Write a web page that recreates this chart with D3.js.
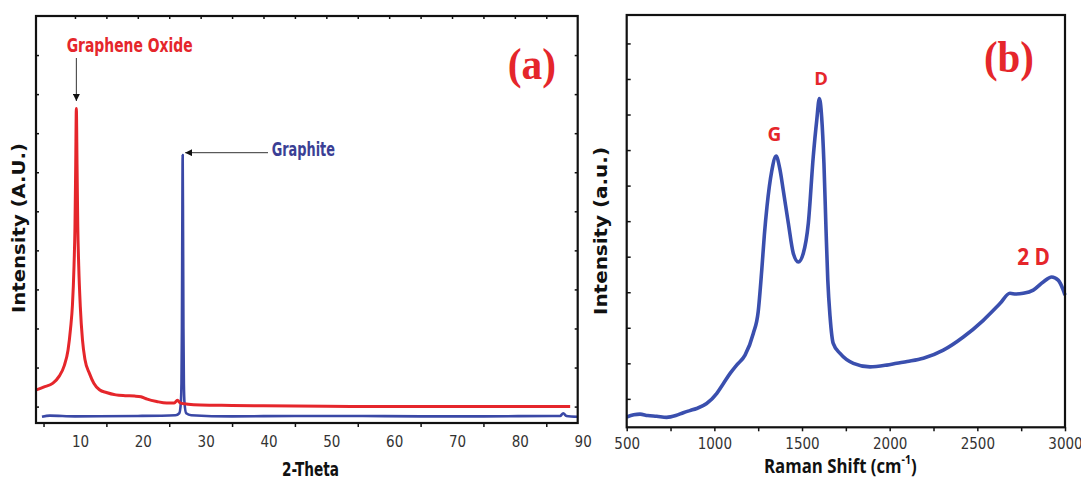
<!DOCTYPE html>
<html>
<head>
<meta charset="utf-8">
<script src="https://cdn.jsdelivr.net/npm/d3@7"></script>
<style>
  html, body { margin: 0; padding: 0; background: #fff; }
  svg { display: block; }
  .narrow { font-family: "Liberation Sans Narrow", "DejaVu Sans Condensed", "Arial Narrow", sans-serif; }
</style>
</head>
<body>
<svg id="fig" width="1081" height="482"></svg>
<script>
// ---------- (a) XRD patterns ----------
const goTheta = [3.85, 5.0, 6.5, 7.5, 8.3, 8.9, 9.3, 9.6, 9.85, 10.0, 10.12, 10.22, 10.33, 10.45, 10.6, 10.85,
  11.2, 11.6, 12.3, 13.0, 13.9, 15.0, 16.5, 18.0, 19.5, 20.5, 21.5, 23.0, 24.6, 25.8, 26.3, 26.8, 28.0,
  30.0, 35.0, 40.0, 50.0, 60.0, 70.0, 80.0, 88.8];
const goIntensity = [0.43, 0.5, 0.6, 0.78, 1.05, 1.45, 2.0, 2.6, 3.6, 4.6, 6.2, 7.63, 6.2, 4.6, 3.6, 2.56,
  1.7, 1.2, 0.85, 0.6, 0.43, 0.36, 0.30, 0.28, 0.27, 0.25, 0.19, 0.13, 0.09, 0.09, 0.16, 0.09, 0.06,
  0.04, 0.03, 0.02, 0.01, 0.0, 0.0, 0.0, 0.0];

const graphiteTheta = [4.75, 6.0, 10.0, 20.0, 26.0, 26.6, 26.85, 26.95, 27.02, 27.08, 27.14, 27.2, 27.26,
  27.33, 27.43, 27.7, 28.5, 35.0, 45.0, 55.0, 65.0, 75.0, 86.0, 87.2, 87.7, 88.2, 90.0];
const graphiteIntensity = [-0.26, -0.23, -0.25, -0.24, -0.22, -0.17, 0.1, 0.6, 2.0, 4.5, 6.44, 4.5, 2.0,
  0.6, 0.1, -0.17, -0.22, -0.25, -0.24, -0.24, -0.25, -0.25, -0.24, -0.24, -0.17, -0.24, -0.26];

const xrdLabelTicks = [10, 20, 30, 40, 50, 60, 70, 80, 90];
const xrdBottomMinor = [5, 15, 25, 35, 45, 55, 65, 75, 85];
const xrdTopTicks = [10, 15, 20, 25, 30, 35, 40, 45, 50, 55, 60, 65, 70, 75, 80, 85];
const xrdYTicks = [0, 1, 2, 3, 4, 5, 6, 7, 8, 9];

// ---------- (b) Raman spectrum ----------
const ramanShift = [500, 540, 576, 620, 671, 728, 780, 823, 860, 899, 956, 1013, 1050, 1089, 1127, 1175,
  1222, 1250, 1270, 1285, 1300, 1327, 1352, 1375, 1393, 1422, 1450, 1479, 1507, 1536, 1564, 1584, 1599,
  1612, 1625, 1637, 1647, 1660, 1678, 1717, 1793, 1888, 1983, 2040, 2100, 2192, 2306, 2420, 2534, 2629,
  2686, 2720, 2762, 2819, 2876, 2924, 2961, 2990, 3000];
const ramanIntensity = [-0.51, -0.45, -0.43, -0.47, -0.49, -0.52, -0.47, -0.39, -0.33, -0.27, -0.13, 0.15,
  0.42, 0.71, 0.95, 1.23, 1.84, 2.45, 3.6, 4.6, 5.4, 6.4, 6.83, 6.43, 5.87, 4.94, 4.10, 3.85, 4.09, 4.94,
  6.81, 7.84, 8.45, 7.93, 6.63, 4.75, 3.34, 2.31, 1.56, 1.28, 1.00, 0.90, 0.95, 1.00, 1.05, 1.14, 1.37,
  1.74, 2.21, 2.68, 2.97, 2.95, 2.97, 3.06, 3.29, 3.43, 3.34, 3.06, 2.92];

const ramanTicks = [500, 750, 1000, 1250, 1500, 1750, 2000, 2250, 2500, 2750, 3000];
const ramanYTicks = [0, 1, 2, 3, 4, 5, 6, 7, 8, 9, 10];

const RED = "#e5262b";
const BLUE_XRD = "#3a48a6";
const BLUE_RAMAN = "#3a4fae";
const NAVY_TEXT = "#3b3f95";

const svg = d3.select("#fig");

// arrowhead marker for the peak pointers
svg.append("defs").append("marker")
  .attr("id", "arrowhead")
  .attr("viewBox", "0 0 10 10")
  .attr("refX", 10).attr("refY", 5)
  .attr("markerWidth", 7).attr("markerHeight", 7)
  .attr("markerUnits", "userSpaceOnUse")
  .attr("orient", "auto")
  .append("path").attr("d", "M0,0 L10,5 L0,10 Z").attr("fill", "#111");

// ---------- panel (a) ----------
const xA = d3.scaleLinear().domain([3.8, 90]).range([36, 577.7]);
const yA = d3.scaleLinear().domain([-0.42, 10]).range([423, 16]);
const gA = svg.append("g");

const lineA = d3.line().x(d => xA(d[0])).y(d => yA(d[1])).curve(d3.curveMonotoneX);

gA.append("path")
  .datum(d3.zip(graphiteTheta, graphiteIntensity))
  .attr("d", lineA).attr("fill", "none").attr("stroke", BLUE_XRD)
  .attr("stroke-width", 2.6).attr("stroke-linejoin", "round");

gA.append("path")
  .datum(d3.zip(goTheta, goIntensity))
  .attr("d", lineA).attr("fill", "none").attr("stroke", RED)
  .attr("stroke-width", 3).attr("stroke-linejoin", "round");

function styleAxis(g) {
  g.select(".domain").remove();
  g.selectAll(".tick line").attr("stroke", "#111").attr("stroke-width", 1.5);
}

// bottom: labels (offset right of their positions) and outward minor ticks
gA.append("g").attr("transform", `translate(0,${yA.range()[0]})`)
  .call(d3.axisBottom(xA).tickValues(xrdBottomMinor).tickSize(4).tickFormat(""))
  .call(styleAxis);
gA.append("g").attr("transform", `translate(0,${yA.range()[0]})`)
  .call(d3.axisBottom(xA).tickValues(xrdLabelTicks).tickSize(0).tickPadding(13).tickFormat(d3.format("d")))
  .call(g => {
    g.select(".domain").remove();
    g.selectAll(".tick text").attr("class", "narrow").attr("font-size", 15)
      .attr("fill", "#333").attr("dx", 5);
  });
// top ticks pointing inward
gA.append("g").attr("transform", `translate(0,${yA.range()[1]})`)
  .call(d3.axisBottom(xA).tickValues(xrdTopTicks).tickSize(3).tickFormat(""))
  .call(styleAxis);
// left and right ticks pointing inward
gA.append("g").attr("transform", `translate(${xA.range()[0]},0)`)
  .call(d3.axisRight(yA).tickValues(xrdYTicks).tickSize(3).tickFormat(""))
  .call(styleAxis);
gA.append("g").attr("transform", `translate(${xA.range()[1]},0)`)
  .call(d3.axisLeft(yA).tickValues(xrdYTicks).tickSize(3).tickFormat(""))
  .call(styleAxis);

// frame
gA.append("rect")
  .attr("x", xA.range()[0]).attr("y", yA.range()[1])
  .attr("width", xA.range()[1] - xA.range()[0]).attr("height", yA.range()[0] - yA.range()[1])
  .attr("fill", "none").attr("stroke", "#111").attr("stroke-width", 2.2);

// annotations
gA.append("text").attr("class", "narrow")
  .attr("x", 66.7).attr("y", 52.3).attr("font-size", 20).attr("font-weight", "bold")
  .attr("fill", RED).attr("textLength", 126).attr("lengthAdjust", "spacingAndGlyphs")
  .text("Graphene Oxide");
gA.append("line")
  .attr("x1", xA(10.22)).attr("y1", 58).attr("x2", xA(10.22)).attr("y2", 101)
  .attr("stroke", "#333").attr("stroke-width", 1).attr("marker-end", "url(#arrowhead)");

gA.append("text").attr("class", "narrow")
  .attr("x", 271.7).attr("y", 155.7).attr("font-size", 20).attr("font-weight", "bold")
  .attr("fill", NAVY_TEXT).attr("textLength", 63.3).attr("lengthAdjust", "spacingAndGlyphs")
  .text("Graphite");
gA.append("line")
  .attr("x1", 268).attr("y1", 152.7).attr("x2", xA(27.14) + 2.5).attr("y2", 152.7)
  .attr("stroke", "#333").attr("stroke-width", 1).attr("marker-end", "url(#arrowhead)");

gA.append("text")
  .attr("x", 507.7).attr("y", 78.5)
  .attr("font-family", "'Liberation Serif', 'DejaVu Serif', serif").attr("font-weight", "bold")
  .attr("font-size", 44).attr("fill", RED)
  .attr("textLength", 48.3).attr("lengthAdjust", "spacingAndGlyphs")
  .text("(a)");

gA.append("text")
  .attr("transform", "translate(25,313) rotate(-90)")
  .attr("font-family", "'DejaVu Sans', Verdana, sans-serif").attr("font-weight", "bold")
  .attr("font-size", 17).attr("fill", "#111")
  .attr("textLength", 170).attr("lengthAdjust", "spacingAndGlyphs")
  .text("Intensity (A.U.)");

gA.append("text").attr("class", "narrow")
  .attr("x", 282).attr("y", 475.7).attr("font-size", 20).attr("font-weight", "bold")
  .attr("fill", "#111").attr("textLength", 57).attr("lengthAdjust", "spacingAndGlyphs")
  .text("2-Theta");

// ---------- panel (b) ----------
const xB = d3.scaleLinear().domain([500, 3000]).range([626.7, 1065]);
const yB = d3.scaleLinear().domain([-0.8, 10.8]).range([427.3, 15]);
const gB = svg.append("g");

const lineB = d3.line().x(d => xB(d[0])).y(d => yB(d[1])).curve(d3.curveMonotoneX);
gB.append("path")
  .datum(d3.zip(ramanShift, ramanIntensity))
  .attr("d", lineB).attr("fill", "none").attr("stroke", BLUE_RAMAN)
  .attr("stroke-width", 3.6).attr("stroke-linejoin", "round");

gB.append("g").attr("transform", `translate(0,${yB.range()[0]})`)
  .call(d3.axisBottom(xB).tickValues(ramanTicks).tickSize(4).tickPadding(7)
    .tickFormat(d => d % 500 === 0 ? d : ""))
  .call(styleAxis)
  .call(g => g.selectAll(".tick text").attr("class", "narrow").attr("font-size", 15).attr("fill", "#333"));

gB.append("g").attr("transform", `translate(${xB.range()[0]},0)`)
  .call(d3.axisRight(yB).tickValues(ramanYTicks).tickSize(4).tickFormat(""))
  .call(styleAxis);

gB.append("rect")
  .attr("x", xB.range()[0]).attr("y", yB.range()[1])
  .attr("width", xB.range()[1] - xB.range()[0]).attr("height", yB.range()[0] - yB.range()[1])
  .attr("fill", "none").attr("stroke", "#111").attr("stroke-width", 2.2);

const peakFont = "'Open Sans', 'Noto Sans', sans-serif";
gB.append("text").attr("x", 774.5).attr("y", 140.7).attr("text-anchor", "middle")
  .attr("font-family", peakFont).attr("font-weight", "bold").attr("font-size", 19).attr("fill", RED)
  .text("G");
gB.append("text").attr("x", 821).attr("y", 85).attr("text-anchor", "middle")
  .attr("font-family", peakFont).attr("font-weight", "bold").attr("font-size", 18.5).attr("fill", RED)
  .text("D");
gB.append("text").attr("x", 1017.3).attr("y", 265)
  .attr("font-family", peakFont).attr("font-weight", "bold").attr("font-size", 23).attr("fill", RED)
  .attr("textLength", 32.7).attr("lengthAdjust", "spacingAndGlyphs")
  .text("2 D");

gB.append("text")
  .attr("x", 984).attr("y", 71.7)
  .attr("font-family", "'Liberation Serif', 'DejaVu Serif', serif").attr("font-weight", "bold")
  .attr("font-size", 44).attr("fill", RED)
  .attr("textLength", 50).attr("lengthAdjust", "spacingAndGlyphs")
  .text("(b)");

gB.append("text")
  .attr("transform", "translate(607.3,315) rotate(-90)")
  .attr("font-family", "'DejaVu Sans', Verdana, sans-serif").attr("font-weight", "bold")
  .attr("font-size", 17).attr("fill", "#111")
  .attr("textLength", 168).attr("lengthAdjust", "spacingAndGlyphs")
  .text("Intensity (a.u.)");

// x-axis title with superscript, slightly condensed horizontally
const xTitleB = gB.append("text")
  .attr("transform", "translate(764,473) scale(0.84,1)")
  .attr("font-family", peakFont).attr("font-weight", "bold").attr("font-size", 20).attr("fill", "#111");
xTitleB.append("tspan").text("Raman Shift (cm");
xTitleB.append("tspan").attr("dy", -9).attr("font-size", 12.5).text("-1");
xTitleB.append("tspan").attr("dy", 9).text(")");
</script>
</body>
</html>
